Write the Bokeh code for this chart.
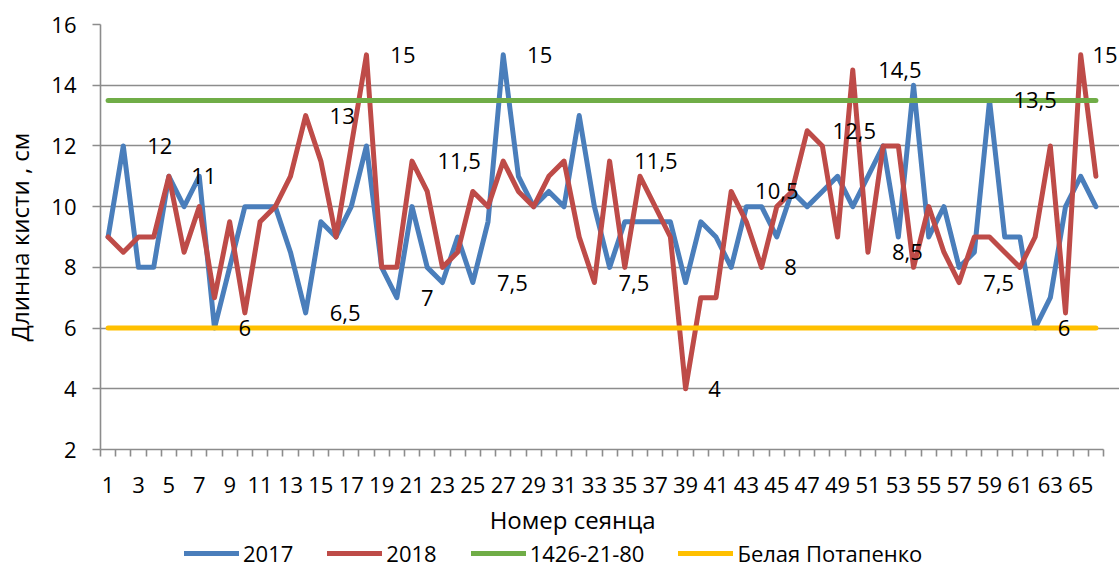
from bokeh.plotting import figure
from bokeh.layouts import column
from bokeh.models import (Range1d, FixedTicker, Legend, LegendItem, LabelSet,
                          ColumnDataSource)
from bokeh.core.properties import value
from bokeh.embed import file_html
from bokeh.resources import INLINE

# ---- data ----
seedlings = list(range(1, 67))
y2017 = [9, 12, 8, 8, 11, 10, 11, 6, 8, 10,
         10, 10, 8.5, 6.5, 9.5, 9, 10, 12, 8, 7,
         10, 8, 7.5, 9, 7.5, 9.5, 15, 11, 10, 10.5,
         10, 13, 10, 8, 9.5, 9.5, 9.5, 9.5, 7.5, 9.5,
         9, 8, 10, 10, 9, 10.5, 10, 10.5, 11, 10,
         11, 12, 9, 14, 9, 10, 8, 8.5, 13.5, 9,
         9, 6, 7, 10, 11, 10]
y2018 = [9, 8.5, 9, 9, 11, 8.5, 10, 7, 9.5, 6.5,
         9.5, 10, 11, 13, 11.5, 9, 12, 15, 8, 8,
         11.5, 10.5, 8, 8.5, 10.5, 10, 11.5, 10.5, 10, 11,
         11.5, 9, 7.5, 11.5, 8, 11, 10, 9, 4, 7,
         7, 10.5, 9.5, 8, 10, 10.5, 12.5, 12, 9, 14.5,
         8.5, 12, 12, 8, 10, 8.5, 7.5, 9, 9, 8.5,
         8, 9, 12, 6.5, 15, 11]
ref_1426 = [13.5] * 66
ref_belaya = [6] * 66

label_text = ["12", "11", "6", "6,5", "13", "15", "7", "11,5", "7,5", "15",
              "7,5", "11,5", "4", "10,5", "8", "12,5", "14,5", "8,5", "7,5",
              "13,5", "6", "15"]
label_x = [4.4, 7.3, 10.0, 16.6, 16.4, 20.4, 22.0, 24.1, 27.6, 29.4,
           35.6, 37.05, 40.9, 45.0, 45.9, 50.1, 53.1, 53.6, 59.6,
           62.0, 63.9, 66.6]
label_y = [12, 11, 6, 6.5, 13, 15, 7, 11.5, 7.5, 15,
           7.5, 11.5, 4, 10.5, 8, 12.5, 14.5, 8.5, 7.5,
           13.5, 6, 15]

series_names = ["2017", "2018", "1426-21-80", "Белая Потапенко"]
x_ticks = list(range(1, 66, 2))
y_ticks = [2, 4, 6, 8, 10, 12, 14, 16]

FONT = "Open Sans"
GRAY = "#8c8c8c"
BLUE = "#4a7ebb"
RED = "#be4b48"
GREEN = "#70ad47"
YELLOW = "#ffc000"
COLORS = [BLUE, RED, GREEN, YELLOW]
SERIES = [y2017, y2018, ref_1426, ref_belaya]

n = len(seedlings)
# frame runs to the right edge so that the last data label is not clipped
fig = figure(width=1119, height=538, output_backend="svg",
             toolbar_location=None,
             x_range=Range1d(0.5, n + 0.5 + 16 / 15.21),
             y_range=Range1d(2, 16),
             min_border_left=99, min_border_right=0, min_border_top=24,
             min_border_bottom=88)
fig.outline_line_color = None

for ys, c in zip(SERIES, COLORS):
    fig.line(seedlings, ys, line_color=c, line_width=5,
             line_join="round", line_cap="round")

src = ColumnDataSource(dict(x=label_x, y=label_y, t=label_text))
labels = LabelSet(x="x", y="y", text="t", source=src, text_align="center",
                  text_baseline="middle", text_font=value(FONT),
                  text_font_size="22px", text_color="black")
fig.add_layout(labels)

fig.xgrid.visible = False
fig.ygrid.grid_line_color = GRAY
fig.ygrid.grid_line_width = 1.6
fig.ygrid.ticker = FixedTicker(ticks=y_ticks)

xa = fig.xaxis[0]
xa.bounds = (0.5, n + 0.5)
xa.ticker = FixedTicker(ticks=x_ticks,
                        minor_ticks=[i + 0.5 for i in range(0, n + 1)])
xa.major_tick_line_color = None
xa.major_tick_out = 7
xa.major_tick_in = 0
xa.minor_tick_line_color = GRAY
xa.minor_tick_line_width = 1.6
xa.minor_tick_out = 7
xa.minor_tick_in = 0
xa.axis_line_color = GRAY
xa.axis_line_width = 1.6
xa.major_label_text_font = FONT
xa.major_label_text_font_size = "22px"
xa.major_label_text_color = "black"
xa.major_label_standoff = 20
xa.axis_label = "Номер сеянца" + "\u00a0" * 12
xa.axis_label_text_font = FONT
xa.axis_label_text_font_size = "24px"
xa.axis_label_text_font_style = "normal"
xa.axis_label_text_color = "black"
xa.axis_label_standoff = 7

ya = fig.yaxis[0]
ya.ticker = FixedTicker(ticks=y_ticks)
ya.minor_tick_line_color = None
ya.major_tick_line_color = GRAY
ya.major_tick_line_width = 1.6
ya.major_tick_out = 8
ya.major_tick_in = 0
ya.axis_line_color = GRAY
ya.axis_line_width = 1.6
ya.major_label_text_font = FONT
ya.major_label_text_font_size = "22px"
ya.major_label_text_color = "black"
ya.major_label_standoff = 16
ya.axis_label = "Длинна кисти , см"
ya.axis_label_text_font = FONT
ya.axis_label_text_font_size = "24px"
ya.axis_label_text_font_style = "normal"
ya.axis_label_text_color = "black"
ya.axis_label_standoff = 12

# legend strip below the chart
leg = figure(width=1119, height=32, output_backend="svg",
             toolbar_location=None, x_axis_type=None, y_axis_type=None,
             x_range=Range1d(0, 1), y_range=Range1d(0, 1),
             min_border_left=0, min_border_right=0, min_border_top=0,
             min_border_bottom=0)
leg.outline_line_color = None
leg.xgrid.visible = False
leg.ygrid.visible = False
items = []
for name, ys, c in zip(series_names, SERIES, COLORS):
    r = leg.line(seedlings, ys, line_color=c, line_width=5,
                 line_cap="round", visible=False)
    items.append(LegendItem(label=name, renderers=[r]))
legend = Legend(items=items, orientation="horizontal", location=(84, 2),
                glyph_width=55, glyph_height=20, label_standoff=4,
                spacing=34, padding=0, margin=0,
                border_line_color=None, background_fill_alpha=0,
                label_text_font=FONT, label_text_font_size="22px",
                label_text_color="black", inactive_fill_alpha=0)
leg.add_layout(legend, "center")

p = column(fig, leg, spacing=0)

open("out.html", "w").write(file_html(p, INLINE))
